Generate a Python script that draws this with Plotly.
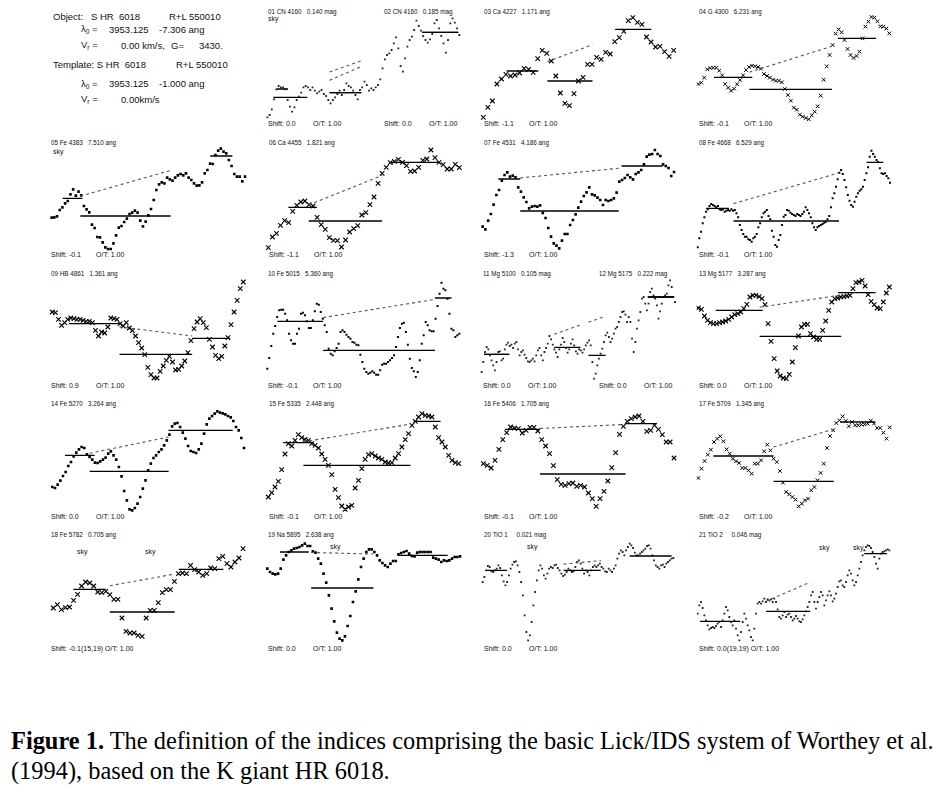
import numpy as np
import plotly.graph_objects as go

# ---- spectra of HR 6018 around each Lick index (flux in arbitrary units) ----
# wavelength grid: [first, last] in Angstrom, points evenly spaced
cn_lam = [4073.5, 4285.3]
cn_flux = [38, 45, 62, 92, 122, 132, 128, 128, 122, 90, 70, 55, 68, 90, 100, 112, 128, 132, 128, 120,
           128, 118, 110, 115, 120, 108, 102, 90, 80, 90, 98, 108, 118, 105, 120, 140, 132, 128, 118, 105,
           92, 120, 128, 145, 135, 118, 125, 120, 128, 135, 152, 185, 212, 225, 230, 240, 260, 278, 245, 192,
           175, 215, 250, 270, 280, 300, 328, 312, 298, 282, 270, 262, 272, 288, 320, 330, 305, 282, 260, 232,
           270, 320, 335, 322, 305, 285]
ca4227_lam = [4204.55, 4257.18]
ca4227_flux = [38, 68, 87, 138, 153, 167, 162, 165, 171, 185, 182, 173, 214, 239, 230, 207, 162, 111, 80, 73,
               109, 147, 158, 197, 197, 218, 212, 233, 228, 265, 277, 296, 328, 337, 323, 317, 279, 264, 249, 251,
               235, 221, 239]
g4300_lam = [4259.76, 4340.7]
g4300_flux = [138, 142, 157, 182, 186, 187, 187, 178, 164, 138, 127, 118, 124, 137, 150, 164, 180, 189, 193, 191,
              189, 184, 168, 162, 157, 151, 148, 148, 143, 123, 105, 88, 67, 61, 46, 40, 36, 32, 44, 55,
              71, 103, 151, 191, 225, 255, 289, 302, 293, 270, 243, 225, 216, 222, 235, 275, 310, 325, 339, 337,
              326, 311, 310, 304, 290]
fe4383_lam = [4352.89, 4462.53]
fe4383_flux = [127, 128, 131, 150, 158, 170, 177, 197, 212, 193, 205, 194, 162, 152, 143, 106, 96, 69, 68, 53,
               38, 33, 33, 50, 74, 97, 102, 114, 124, 138, 142, 148, 142, 118, 101, 115, 134, 153, 180, 210,
               227, 233, 230, 247, 242, 238, 247, 254, 258, 254, 260, 247, 240, 230, 223, 224, 233, 260, 270, 289,
               288, 315, 328, 334, 325, 320, 300, 282, 258, 250, 250, 236, 250]
ca4455_lam = [4439.75, 4498.28]
ca4455_flux = [37, 69, 80, 104, 118, 112, 146, 164, 174, 177, 166, 162, 128, 106, 92, 67, 59, 58, 39, 60,
               84, 94, 103, 135, 142, 166, 189, 230, 260, 278, 292, 296, 302, 293, 283, 266, 267, 278, 299, 303,
               330, 307, 293, 286, 273, 273, 287, 277]
fe4531_lam = [4497.10, 4584.46]
fe4531_flux = [100, 92, 118, 138, 166, 195, 210, 238, 255, 263, 250, 253, 248, 218, 205, 188, 174, 155, 160, 162,
               160, 164, 141, 126, 96, 70, 50, 43, 35, 58, 78, 78, 105, 120, 137, 157, 175, 192, 203, 218,
               197, 194, 187, 180, 165, 180, 177, 180, 185, 202, 235, 240, 246, 255, 248, 242, 258, 263, 270, 287,
               310, 316, 318, 330, 318, 312, 287, 282, 276, 252, 264]
fe4668_lam = [4604.69, 4761.9]
fe4668_flux = [38, 65, 85, 110, 128, 145, 152, 162, 168, 165, 162, 158, 162, 152, 150, 152, 145, 148, 150, 148,
               152, 148, 150, 140, 128, 105, 90, 78, 70, 70, 62, 60, 55, 65, 70, 78, 98, 110, 128, 140,
               145, 150, 132, 122, 88, 70, 45, 40, 60, 75, 105, 130, 135, 150, 148, 142, 138, 135, 132, 138,
               135, 132, 138, 145, 158, 150, 140, 128, 110, 98, 90, 98, 102, 105, 108, 112, 115, 122, 132, 158,
               185, 200, 220, 242, 262, 270, 258, 240, 218, 195, 178, 165, 160, 175, 190, 200, 208, 212, 220, 240,
               260, 278, 310, 328, 318, 310, 300, 294, 275, 260, 258, 260, 252, 245, 232]
hb_lam = [4821.28, 4896.87]
hb_flux = [240, 238, 218, 200, 208, 218, 222, 220, 218, 218, 215, 212, 212, 208, 185, 168, 180, 177, 195, 222,
           220, 218, 205, 198, 208, 192, 184, 168, 148, 132, 112, 74, 52, 42, 42, 62, 78, 95, 107, 90,
           66, 68, 78, 93, 118, 154, 190, 210, 220, 208, 193, 158, 135, 110, 100, 107, 138, 163, 202, 240,
           275, 310, 330]
fe5015_lam = [4939.68, 5070.59]
fe5015_flux = [70, 102, 138, 175, 198, 225, 245, 247, 247, 235, 215, 175, 155, 145, 145, 175, 190, 235, 238, 230,
               212, 192, 192, 215, 242, 265, 262, 240, 220, 200, 180, 130, 115, 110, 122, 132, 145, 180, 185, 180,
               172, 165, 160, 150, 148, 142, 140, 112, 90, 70, 60, 55, 58, 62, 58, 52, 52, 65, 82, 85,
               85, 90, 95, 102, 110, 135, 165, 192, 205, 208, 180, 142, 100, 72, 62, 45, 60, 95, 145, 170,
               210, 200, 185, 182, 182, 220, 258, 295, 328, 310, 305, 280, 235, 190, 185, 165, 170, 175]
mg_lam = [4889.34, 5368.68]
mg_flux = [60, 90, 120, 135, 128, 110, 95, 80, 65, 90, 120, 122, 95, 100, 128, 142, 148, 138, 142, 132,
           145, 150, 128, 110, 120, 125, 112, 102, 92, 90, 95, 100, 92, 110, 125, 132, 110, 95, 120, 132,
           145, 168, 158, 142, 128, 118, 105, 128, 142, 162, 150, 132, 118, 128, 145, 158, 140, 122, 115, 128,
           125, 118, 128, 140, 148, 155, 140, 90, 40, 55, 80, 100, 115, 130, 150, 170, 178, 165, 150, 160,
           175, 190, 195, 210, 225, 240, 242, 232, 210, 225, 210, 160, 120, 150, 190, 215, 240, 280, 285, 265,
           245, 265, 300, 310, 290, 280, 260, 220, 242, 265, 285, 290, 295, 320, 335, 315, 285, 270]
mgb_lam = [5135.72, 5211.82]
mgb_flux = [252, 248, 228, 215, 208, 205, 205, 208, 210, 213, 218, 225, 232, 235, 240, 250, 263, 285, 290, 290,
            286, 280, 262, 205, 152, 100, 63, 48, 42, 40, 53, 90, 133, 168, 195, 203, 203, 175, 165, 158,
            158, 185, 213, 245, 270, 280, 282, 285, 286, 288, 290, 310, 328, 330, 335, 318, 292, 272, 262, 252,
            250, 270, 297, 315]
fe5270_lam = [5226.73, 5323.86]
fe5270_flux = [105, 102, 112, 124, 138, 150, 168, 180, 197, 208, 218, 225, 222, 203, 195, 187, 178, 177, 182, 187,
               193, 205, 212, 200, 187, 165, 137, 93, 65, 38, 35, 42, 55, 75, 100, 125, 155, 175, 192, 200,
               210, 218, 230, 245, 262, 287, 295, 297, 285, 268, 250, 228, 213, 210, 207, 218, 235, 265, 293, 310,
               318, 325, 332, 328, 326, 323, 318, 314, 303, 285, 275, 252, 222]
fe5335_lam = [5299.02, 5370.13]
fe5335_flux = [75, 88, 105, 122, 157, 204, 235, 228, 245, 262, 253, 248, 245, 235, 230, 222, 204, 188, 170, 142,
               98, 73, 48, 38, 45, 50, 102, 125, 160, 188, 202, 205, 198, 192, 188, 180, 177, 178, 192, 205,
               225, 247, 265, 290, 302, 315, 325, 320, 318, 315, 285, 253, 240, 225, 200, 185, 178, 175]
fe5406_lam = [5369.28, 5430.59]
fe5406_flux = [175, 170, 162, 185, 218, 247, 268, 285, 282, 280, 267, 275, 284, 284, 273, 247, 228, 205, 169, 127,
               113, 110, 115, 117, 107, 110, 105, 87, 70, 47, 70, 92, 123, 163, 208, 263, 287, 302, 310, 315,
               318, 302, 272, 275, 290, 278, 262, 240, 240, 192]
fe5709_lam = [5666.96, 5742.39]
fe5709_flux = [132, 160, 183, 202, 217, 240, 250, 257, 242, 218, 205, 190, 182, 177, 162, 162, 155, 145, 175, 175,
               185, 212, 232, 215, 190, 180, 153, 118, 90, 83, 75, 67, 47, 55, 65, 70, 95, 105, 125, 147,
               175, 222, 258, 275, 297, 305, 317, 303, 287, 300, 290, 290, 292, 293, 295, 304, 295, 282, 282, 268,
               250, 284]
fe5782_lam = [5759.21, 5817.69]
fe5782_flux = [132, 142, 127, 133, 135, 155, 173, 198, 210, 207, 198, 180, 178, 182, 172, 158, 158, 102, 62, 57,
               57, 50, 47, 102, 125, 125, 148, 178, 187, 187, 212, 235, 237, 235, 260, 247, 240, 230, 235, 252,
               250, 280, 287, 265, 255, 270, 282, 310]
nad_lam = [5854.02, 5954.54]
nad_flux = [250, 240, 235, 233, 235, 250, 277, 290, 300, 305, 310, 312, 315, 320, 325, 318, 318, 302, 298, 280,
            265, 235, 208, 170, 130, 92, 58, 40, 35, 47, 78, 108, 150, 182, 218, 255, 280, 300, 308, 308,
            300, 290, 275, 267, 260, 255, 265, 273, 273, 293, 297, 300, 303, 295, 288, 287, 298, 300, 300, 300,
            300, 300, 283, 280, 277, 270, 275, 273, 275, 280, 285, 285, 287]
tio1_lam = [5811.47, 6106.31]
tio1_flux = [210, 225, 245, 258, 255, 242, 240, 245, 250, 260, 252, 230, 212, 200, 210, 230, 250, 262, 270, 272,
             260, 240, 210, 170, 110, 60, 35, 50, 90, 140, 180, 215, 245, 260, 250, 230, 220, 235, 250, 255,
             252, 260, 262, 252, 245, 235, 228, 232, 240, 250, 245, 240, 242, 255, 270, 275, 265, 250, 235, 245,
             240, 230, 245, 255, 260, 255, 260, 265, 255, 250, 242, 240, 250, 245, 240, 250, 260, 280, 295, 305,
             300, 290, 305, 315, 325, 320, 312, 298, 290, 290, 295, 300, 305, 310, 318, 320, 310, 290, 275, 260,
             255, 250, 260, 262, 255, 265, 270, 275, 280, 282]
tio2_lam = [6062.28, 6419.42]
tio2_flux = [115, 140, 150, 132, 110, 95, 80, 68, 72, 75, 72, 78, 85, 90, 75, 95, 115, 135, 125, 105,
             90, 80, 95, 70, 50, 35, 60, 90, 115, 100, 80, 65, 45, 35, 70, 115, 145, 150, 145, 152,
             160, 150, 158, 155, 158, 150, 160, 150, 128, 105, 100, 110, 120, 105, 112, 115, 105, 95, 100, 108,
             100, 92, 90, 98, 110, 122, 135, 150, 170, 180, 150, 130, 150, 165, 180, 170, 140, 155, 170, 182,
             170, 152, 160, 175, 195, 212, 215, 200, 195, 210, 230, 245, 235, 215, 200, 210, 230, 250, 270, 290,
             305, 315, 320, 318, 312, 300, 285, 265, 250, 280, 295, 300, 302, 305, 308, 305]

# ---- Lick bandpasses: (blue), (central), (red) as (lambda1, lambda2, mean flux) ----
cn1_bands = [(4080.125, 4117.625, 98), (4142.125, 4177.125, 112), (4244.125, 4284.125, 293)]
cn2_bands = [(4083.875, 4096.375, 123), (4142.125, 4177.125, 112), (4244.125, 4284.125, 293)]
ca4227_bands = [(4211.0, 4219.75, 177), (4222.25, 4234.75, 147), (4241.0, 4251.0, 302)]
g4300_bands = [(4266.375, 4282.625, 158), (4281.375, 4316.375, 122), (4318.875, 4335.125, 275)]
fe4383_bands = [(4359.125, 4370.375, 185), (4369.125, 4420.375, 132), (4442.875, 4455.375, 312)]
ca4455_bands = [(4445.875, 4454.625, 158), (4452.125, 4474.625, 117), (4477.125, 4492.125, 293)]
fe4531_bands = [(4504.25, 4514.25, 243), (4514.25, 4559.25, 147), (4560.5, 4579.25, 282)]
fe4668_bands = [(4611.5, 4630.25, 155), (4634.0, 4720.25, 117), (4742.75, 4756.5, 293)]
hb_bands = [(4827.875, 4847.875, 205), (4847.875, 4876.625, 113), (4876.625, 4891.625, 161)]
fe5015_bands = [(4946.5, 4977.75, 212), (4977.75, 5054.0, 125), (5054.0, 5065.25, 282)]
mg1_bands = [(4895.125, 4957.625, 113), (5069.125, 5134.125, 134), (5301.125, 5366.125, 285)]
mg2_bands = [(4895.125, 4957.625, 113), (5154.125, 5196.625, 110), (5301.125, 5366.125, 285)]
mgb_bands = [(5142.625, 5161.375, 245), (5160.125, 5192.625, 167), (5191.375, 5206.375, 298)]
fe5270_bands = [(5233.15, 5248.15, 200), (5245.65, 5285.65, 152), (5285.65, 5318.15, 275)]
fe5335_bands = [(5304.625, 5315.875, 238), (5312.125, 5352.125, 170), (5353.375, 5363.375, 302)]
fe5406_bands = [(5376.25, 5387.5, 278), (5387.5, 5415.0, 144), (5415.0, 5425.0, 295)]
fe5709_bands = [(5672.875, 5696.625, 198), (5696.625, 5720.375, 122), (5722.875, 5736.625, 300)]
fe5782_bands = [(5765.375, 5775.375, 188), (5776.625, 5796.625, 120), (5797.875, 5811.625, 248)]
nad_bands = [(5860.625, 5875.625, 300), (5876.875, 5909.375, 192), (5922.125, 5948.125, 290)]
tio1_bands = [(5816.625, 5849.125, 245), (5936.625, 5994.125, 245), (6038.625, 6103.625, 288)]
tio2_bands = [(6066.625, 6141.625, 92), (6189.625, 6272.125, 122), (6372.625, 6415.125, 295)]

# ---- labels ----
titles = ["01 CN 4160   0.140 mag", "02 CN 4160   0.185 mag", "03 Ca 4227   1.171 ang", "04 G 4300   6.231 ang",
          "05 Fe 4383   7.510 ang", "06 Ca 4455   1.821 ang", "07 Fe 4531   4.186 ang", "08 Fe 4668   6.529 ang",
          "09 HB 4861   1.361 ang", "10 Fe 5015   5.360 ang", "11 Mg 5100   0.105 mag", "12 Mg 5175   0.222 mag",
          "13 Mg 5177   3.287 ang", "14 Fe 5270   3.264 ang", "15 Fe 5335   2.448 ang", "16 Fe 5406   1.705 ang",
          "17 Fe 5709   1.345 ang", "18 Fe 5782   0.705 ang", "19 Na 5895   2.638 ang", "20 TiO 1     0.021 mag",
          "21 TiO 2     0.046 mag"]
shifts = ["0.0", "0.0", "-1.1", "-0.1", "-0.1", "-1.1", "-1.3", "-0.1", "0.9", "-0.1", "0.0", "0.0",
          "0.0", "0.0", "-0.1", "-0.1", "-0.2", "-0.1(15,19)", "0.0", "0.0", "0.0(19,19)"]

# page is drawn with an 8px body margin, so everything is placed relative to that
OFF = 8
W, H = 925, 780
COLS = [(33.33, 253.33), (253.33, 480.0), (470.0, 696.67), (696.67, 933.0)]
ROW_TOP = [0, 130, 262, 392, 522]
TITLE_Y = [11.7, 142.7, 273.7, 404.3, 535.3]
SHIFT_Y = [123.3, 254.3, 385.3, 516.3, 648.7]


def px(x):
    return (x - OFF) / W


def py(y):
    return 1 - (y - OFF) / H


# (flux, lam, indices, title ids, row, col, x-range, marker, title x positions, sky labels)
panels = [
    (cn_flux, cn_lam, [cn1_bands, cn2_bands], [0, 1], 0, 1, [4058.07, 4308.07], "tiny", [266.7, 383.3], [(266.7, 19.3, "left")]),
    (ca4227_flux, ca4227_lam, [ca4227_bands], [2], 0, 2, [4200.87, 4263.54], "x", [483.3], []),
    (g4300_flux, g4300_lam, [g4300_bands], [3], 0, 3, [4259.06, 4359.2], "xs", [697.7], []),
    (fe4383_flux, fe4383_lam, [fe4383_bands], [4], 1, 0, [4342.49, 4467.25], "sq", [50.0], [(51.7, 151.7, "left")]),
    (ca4455_flux, ca4455_lam, [ca4455_bands], [5], 1, 1, [4435.15, 4504.61], "x", [268.3], []),
    (fe4531_flux, fe4531_lam, [fe4531_bands], [6], 1, 2, [4491.31, 4594.81], "sq", [482.7], []),
    (fe4668_flux, fe4668_lam, [fe4668_bands], [7], 1, 3, [4603.87, 4797.06], "dot", [697.7], []),
    (hb_flux, hb_lam, [hb_bands], [8], 2, 0, [4813.76, 4900.83], "x", [50.0], []),
    (fe5015_flux, fe5015_lam, [fe5015_bands], [9], 2, 1, [4930.14, 5084.68], "dot", [267.3], []),
    (mg_flux, mg_lam, [mg1_bands, mg2_bands], [10, 11], 2, 2, [4860.41, 5422.4], "tiny", [481.7, 598.3], []),
    (mgb_flux, mgb_lam, [mgb_bands], [12], 2, 3, [5135.05, 5229.21], "x", [697.7], []),
    (fe5270_flux, fe5270_lam, [fe5270_bands], [13], 3, 0, [5217.1, 5328.59], "sq", [50.0], []),
    (fe5335_flux, fe5335_lam, [fe5335_bands], [14], 3, 1, [5293.42, 5378.1], "x", [268.3], []),
    (fe5406_flux, fe5406_lam, [fe5406_bands], [15], 3, 2, [5364.99, 5437.88], "x", [482.7], []),
    (fe5709_flux, fe5709_lam, [fe5709_bands], [16], 3, 3, [5666.3, 5759.48], "xs", [697.7], []),
    (fe5782_flux, fe5782_lam, [fe5782_bands], [17], 4, 0, [5753.04, 5820.87], "x", [50.0], [(82.7, 552, "center"), (150.7, 552, "center")]),
    (nad_flux, nad_lam, [nad_bands], [18], 4, 1, [5846.71, 5964.97], "sq", [267.3], [(335.0, 547, "center")]),
    (tio1_flux, tio1_lam, [tio1_bands], [19], 4, 2, [5791.88, 6142.4], "tiny", [482.7], [(532.3, 547, "center")]),
    (tio2_flux, tio2_lam, [tio2_bands], [20], 4, 3, [6060.41, 6500.79], "tiny", [697.7], [(824.3, 548, "center"), (858.0, 548, "center")]),
]

MARKERS = {
    "x": dict(symbol="x-thin", size=4.5, line=dict(width=1.1, color="black"), color="black"),
    "xs": dict(symbol="x-thin", size=3.6, line=dict(width=1.0, color="black"), color="black"),
    "sq": dict(symbol="square", size=2.6, color="black"),
    "dot": dict(symbol="square", size=2.0, color="black"),
    "tiny": dict(symbol="square", size=1.8, color="#222"),
}

fig = go.Figure()
annotations = []


def txt(s, x, y, size=7, anchor="left", family="Liberation Sans", color="#111"):
    annotations.append(dict(text=s, x=px(x), y=py(y), xref="paper", yref="paper",
                            xanchor=anchor, yanchor="middle", showarrow=False, borderpad=0,
                            font=dict(size=size, family=family, color=color)))


for k, (flux, lam, indices, tids, row, col, xr, mk, tx, skies) in enumerate(panels, start=1):
    ax = "" if k == 1 else str(k)
    x0, x1 = COLS[col]
    top = ROW_TOP[row]
    # the frame is 130 px tall for 390 flux units; clip the part above the page edge
    vis_top = max(top, OFF)
    ymax = 390 - (vis_top - top) * 3
    wl = np.linspace(lam[0], lam[1], len(flux))

    # spectrum
    fig.add_trace(go.Scatter(x=wl, y=flux, mode="markers", marker=MARKERS[mk],
                             xaxis="x" + ax, yaxis="y" + ax, hoverinfo="skip"))

    # bandpass levels and the pseudo-continuum over the central band
    bx, by, cx, cy = [], [], [], []
    for bands in indices:
        for lo, hi, lev in bands:
            bx += [lo, hi, None]
            by += [lev, lev, None]
        (b0, b1, bl), (c0, c1, _), (r0, r1, rl) = bands
        bm, rm = (b0 + b1) / 2, (r0 + r1) / 2
        slope = (rl - bl) / (rm - bm)
        cx += [c0, c1, None]
        cy += [bl + slope * (c0 - bm), bl + slope * (c1 - bm), None]
    fig.add_trace(go.Scatter(x=bx, y=by, mode="lines", line=dict(color="black", width=1.4),
                             xaxis="x" + ax, yaxis="y" + ax, hoverinfo="skip"))
    fig.add_trace(go.Scatter(x=cx, y=cy, mode="lines", line=dict(color="#555", width=1.1, dash="dot"),
                             xaxis="x" + ax, yaxis="y" + ax, hoverinfo="skip"))

    fig.layout["xaxis" + ax] = dict(domain=[px(x0), px(x1)], range=xr, visible=False,
                                    anchor="y" + ax)
    fig.layout["yaxis" + ax] = dict(domain=[py(top + 130), py(vis_top)], range=[0, ymax],
                                    visible=False, anchor="x" + ax)

    for t, xp in zip(tids, tx):
        txt(titles[t], xp, TITLE_Y[row], 6.3)
        if t in (17, 20):
            txt("Shift: " + shifts[t] + " O/T: 1.00", xp, SHIFT_Y[row])
        else:
            txt("Shift: " + shifts[t], xp, SHIFT_Y[row])
            txt("O/T: 1.00", xp + 45, SHIFT_Y[row])
    for sx, sy, anc in skies:
        txt("sky", sx, sy, anchor=anc)

# header block (object / template)
hs = 9.5
txt("Object:   S HR  6018", 52.3, 16.7, hs)
txt("R+L 550010", 168.3, 16.7, hs)
txt("λ<sub>0</sub> =", 80, 29, hs)
txt("3953.125", 108, 29, hs)
txt("-7.306 ang", 158.3, 29, hs)
txt("V<sub>r</sub> =", 80, 45, hs)
txt("0.00 km/s,", 120, 45, hs)
txt("G=", 170, 45, hs)
txt("3430.", 198.3, 45, hs)
txt("Template: S HR  6018", 52.3, 64.3, hs)
txt("R+L 550010", 175, 64.3, hs)
txt("λ<sub>0</sub> =", 80, 84, hs)
txt("3953.125", 108, 84, hs)
txt("-1.000 ang", 158.3, 84, hs)
txt("V<sub>r</sub> =", 80, 99, hs)
txt("0.00km/s", 120, 99, hs)

# caption
txt("<b>Figure 1.</b> The definition of the indices comprising the basic Lick/IDS system of Worthey et al.",
    10, 740, 24.4, family="Liberation Serif", color="black")
txt("(1994), based on the K giant HR 6018.", 10, 771, 24.4, family="Liberation Serif", color="black")

fig.update_layout(width=W, height=H, margin=dict(l=0, r=0, t=0, b=0),
                  paper_bgcolor="white", plot_bgcolor="white", showlegend=False,
                  annotations=annotations)
fig.write_html("out.html")
